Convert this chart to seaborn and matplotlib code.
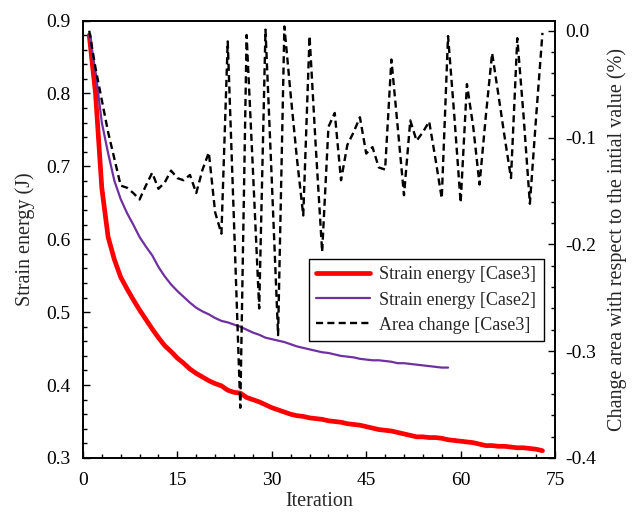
import numpy as np
import pandas as pd
import matplotlib
matplotlib.use("Agg")
import matplotlib.pyplot as plt
from matplotlib.ticker import MultipleLocator
import seaborn as sns

# ---- data ----
red_iter = list(range(1, 74))
red_energy = [0.880, 0.800, 0.670, 0.603, 0.572, 0.548, 0.532, 0.517, 0.503, 0.490,
              0.477, 0.465, 0.454, 0.446, 0.437, 0.430, 0.422, 0.416, 0.411, 0.406,
              0.402, 0.399, 0.393, 0.390, 0.389, 0.383, 0.380, 0.377, 0.373, 0.369,
              0.366, 0.363, 0.360, 0.358, 0.357, 0.355, 0.354, 0.353, 0.351, 0.350,
              0.349, 0.347, 0.346, 0.345, 0.343, 0.341, 0.339, 0.338, 0.337, 0.335,
              0.333, 0.331, 0.329, 0.329, 0.328, 0.328, 0.327, 0.325, 0.324, 0.323,
              0.322, 0.321, 0.319, 0.317, 0.317, 0.316, 0.316, 0.315, 0.314, 0.314,
              0.313, 0.312, 0.310]

purple_iter = list(range(1, 59))
purple_energy = [0.880, 0.830, 0.760, 0.718, 0.680, 0.655, 0.636, 0.620, 0.603, 0.590,
                 0.578, 0.562, 0.549, 0.538, 0.529, 0.521, 0.513, 0.506, 0.501, 0.497,
                 0.492, 0.488, 0.486, 0.483, 0.480, 0.476, 0.472, 0.469, 0.465, 0.463,
                 0.461, 0.459, 0.456, 0.453, 0.451, 0.449, 0.447, 0.445, 0.444, 0.442,
                 0.440, 0.439, 0.438, 0.436, 0.435, 0.434, 0.434, 0.433, 0.432, 0.430,
                 0.430, 0.429, 0.428, 0.427, 0.426, 0.425, 0.424, 0.424]

area_iter = list(range(1, 74))
area_change = [0.000, -0.035, -0.065, -0.095, -0.120, -0.145, -0.147, -0.152, -0.158, -0.145,
               -0.133, -0.148, -0.142, -0.131, -0.138, -0.140, -0.135, -0.152, -0.130, -0.114,
               -0.170, -0.190, -0.010, -0.180, -0.353, -0.004, -0.130, -0.260, 0.001, -0.140,
               -0.285, 0.004, -0.060, -0.120, -0.173, -0.005, -0.110, -0.207, -0.090, -0.077,
               -0.140, -0.107, -0.095, -0.081, -0.115, -0.109, -0.128, -0.130, -0.027, -0.090,
               -0.154, -0.084, -0.103, -0.095, -0.085, -0.120, -0.157, -0.005, -0.080, -0.161,
               -0.050, -0.090, -0.144, -0.080, -0.021, -0.060, -0.100, -0.138, -0.007, -0.080,
               -0.162, -0.080, -0.002]

x_ticks = [0, 15, 30, 45, 60, 75]
left_ticks = [0.3, 0.4, 0.5, 0.6, 0.7, 0.8, 0.9]
right_ticks = [0.0, -0.1, -0.2, -0.3, -0.4]

labels = ["Strain energy [Case3]", "Strain energy [Case2]", "Area change [Case3]"]

# ---- style ----
sns.set_style("ticks")
plt.rcParams["font.family"] = ["Liberation Serif", "DejaVu Serif"]

fig = plt.figure(figsize=(6.38, 5.14), dpi=100)
ax = fig.add_axes([0.130, 0.109, 0.740, 0.851])
ax2 = ax.twinx()

df_red = pd.DataFrame({"Iteration": red_iter, "E": red_energy})
df_pur = pd.DataFrame({"Iteration": purple_iter, "E": purple_energy})
df_area = pd.DataFrame({"Iteration": area_iter, "A": area_change})

sns.lineplot(data=df_red, x="Iteration", y="E", ax=ax, color="#ff0000",
             linewidth=3.4, label=labels[0], legend=False)
sns.lineplot(data=df_pur, x="Iteration", y="E", ax=ax, color="#7030a0",
             linewidth=1.6, label=labels[1], legend=False)
sns.lineplot(data=df_area, x="Iteration", y="A", ax=ax2, color="black",
             linewidth=1.7, label=labels[2], legend=False)
ax2.lines[0].set_dashes([3.0, 1.8])

ax.set_xlim(0, 75)
ax.set_ylim(0.3, 0.9)
ax2.set_ylim(-0.4, 0.0095)

ax.set_xticks(x_ticks)
ax.set_xticklabels([str(t) for t in x_ticks])
ax.xaxis.set_minor_locator(MultipleLocator(3))
ax.set_yticks(left_ticks)
ax.set_yticklabels([f"{t:.1f}" for t in left_ticks])
ax.yaxis.set_minor_locator(MultipleLocator(0.02))
ax2.set_yticks(right_ticks)
ax2.set_yticklabels(["0.0", "-0.1", "-0.2", "-0.3", "-0.4"])
ax2.yaxis.set_minor_locator(MultipleLocator(0.02))

for a in (ax, ax2):
    a.tick_params(which="both", direction="in", labelsize=14, colors="black")
    a.tick_params(which="major", length=5, width=1)
    a.tick_params(which="minor", length=3, width=1)
    for s in a.spines.values():
        s.set_color("black")
        s.set_linewidth(1.2)
ax.tick_params(axis="x", which="both", top=False, pad=10)
ax.tick_params(axis="y", which="both", right=False, pad=9)
ax2.tick_params(axis="y", which="both", right=True, left=False, pad=7)

ax.set_xlabel("Iteration", fontsize=14.5, labelpad=2)
ax.set_ylabel("Strain energy (J)", fontsize=14.5, labelpad=8)
ax2.set_ylabel("Change area with respect to the intial value (%)", fontsize=14.5, labelpad=8)

handles = ax.get_lines()[:2] + ax2.get_lines()[:1]
leg = ax.legend(handles, labels, loc="upper right", bbox_to_anchor=(0.995, 0.475),
                fontsize=13, frameon=True, fancybox=False, framealpha=1,
                edgecolor="black", handlelength=3.0, borderpad=0.4, labelspacing=0.45,
                handletextpad=0.5)
leg.get_frame().set_linewidth(1.0)
leg.set_zorder(10)

fig.savefig("out.png", dpi=100)
